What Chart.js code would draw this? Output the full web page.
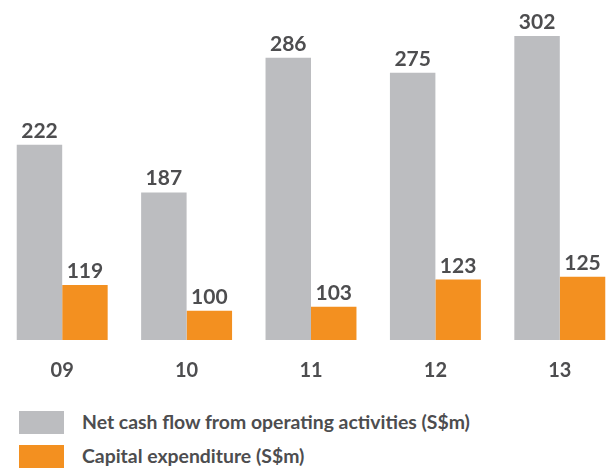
<!DOCTYPE html>
<html>
<head>
<meta charset="utf-8">
<script src="https://cdn.jsdelivr.net/npm/chart.js@4/dist/chart.umd.min.js"></script>
<style>
  html, body { margin: 0; padding: 0; background: #fff; overflow: hidden; }
  body { width: 606px; height: 471px; position: relative; font-family: Lato, sans-serif; }
  #wrap { position: absolute; left: 0; top: 0; width: 622px; height: 402px; }
  .legend { position: absolute; left: 19px; font-size: 19.4px; color: #4d4d4f; }
  .legend span.box { position: absolute; left: 0; top: 0; width: 45px; height: 23px; }
  .legend span.txt { position: absolute; left: 63px; top: -1px; white-space: nowrap; font-weight: bold; }
</style>
</head>
<body>
<div id="wrap"><canvas id="chart"></canvas></div>
<div class="legend" style="top:411px"><span class="box" style="background:#bcbdc0"></span><span class="txt">Net cash flow from operating activities (S$m)</span></div>
<div class="legend" style="top:445px"><span class="box" style="background:#f39020"></span><span class="txt">Capital expenditure (S$m)</span></div>
<script>
// Net cash flow vs capex, FY09-FY13
const years = ["09", "10", "11", "12", "13"];
const netCashFlow = [222, 187, 286, 275, 302];
const capex = [119, 100, 103, 123, 125];

const GREY = "#bcbdc0";
const ORANGE = "#f39020";
const TEXT = "#4d4d4f";

// value labels on top of each bar
const barValues = {
  id: "barValues",
  afterDatasetsDraw(chart) {
    const ctx = chart.ctx;
    ctx.save();
    ctx.font = "bold 21px Lato";
    ctx.fillStyle = TEXT;
    ctx.textAlign = "center";
    ctx.textBaseline = "alphabetic";
    chart.data.datasets.forEach((ds, di) => {
      chart.getDatasetMeta(di).data.forEach((bar, i) => {
        ctx.fillText(ds.data[i], bar.x, bar.y - 7);
      });
    });
    ctx.restore();
  },
};

new Chart(document.getElementById("chart"), {
  type: "bar",
  data: {
    labels: years,
    datasets: [
      { label: "Net cash flow from operating activities (S$m)", data: netCashFlow, backgroundColor: GREY },
      { label: "Capital expenditure (S$m)", data: capex, backgroundColor: ORANGE },
    ],
  },
  options: {
    responsive: true,
    maintainAspectRatio: false,
    animation: false,
    categoryPercentage: 0.731,
    barPercentage: 1,
    layout: { padding: 0 },
    scales: {
      x: {
        grid: { display: false, drawTicks: false },
        border: { display: false },
        ticks: { color: TEXT, font: { family: "Lato", size: 20, weight: "bold" }, padding: 19 },
      },
      y: {
        display: false,
        min: 78.6,
        max: 328.4,
      },
    },
    plugins: {
      legend: { display: false },
      tooltip: { enabled: false },
    },
  },
  plugins: [barValues],
});
</script>
</body>
</html>
